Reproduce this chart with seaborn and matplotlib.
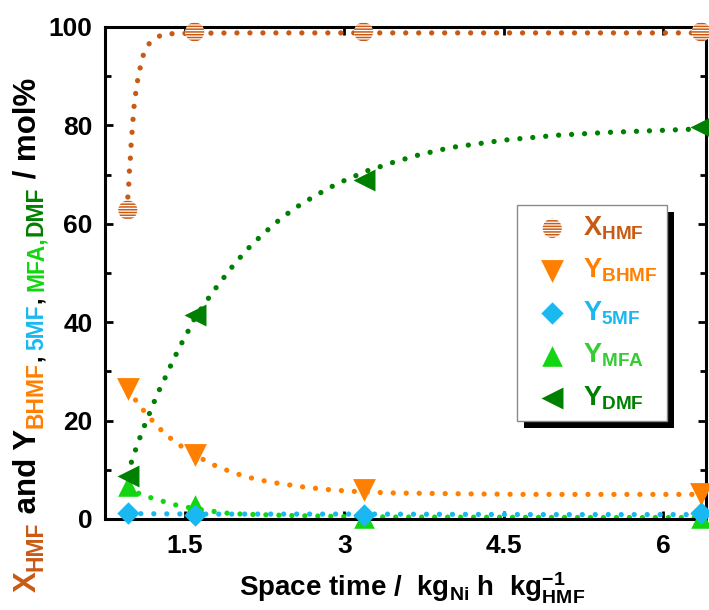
import numpy as np
import pandas as pd
import matplotlib
matplotlib.use("Agg")
import matplotlib.pyplot as plt
import seaborn as sns
from matplotlib.patches import Rectangle
from matplotlib.transforms import IdentityTransform

# ---------------- data ----------------
space_time = [0.96, 1.59, 3.18, 6.36]
x_hmf = [62.8, 99.0, 99.0, 99.0]
y_bhmf = [26.5, 13.0, 5.9, 5.1]
y_5mf = [1.3, 0.8, 0.8, 1.2]
y_mfa = [6.7, 2.8, 0.3, 0.2]
y_dmf = [8.7, 41.5, 69.0, 79.7]

# fitted (dotted) curves
fit_hmf_x = [0.953, 0.96, 0.969, 0.975, 0.984, 0.991, 1.0, 1.009, 1.019, 1.035, 1.054,
             1.078, 1.107, 1.163, 1.274, 1.406, 2.0, 3.0, 4.0, 5.0, 6.36]
fit_hmf_y = [62.8, 65.4, 68.1, 70.8, 73.4, 76.1, 78.7, 81.3, 84.0, 86.7, 89.4,
             91.9, 94.4, 96.7, 98.4, 98.7, 98.8, 98.8, 98.8, 98.8, 98.8]

fit_dmf_x = [0.96, 0.997, 1.035, 1.078, 1.123, 1.17, 1.217, 1.264, 1.318, 1.368, 1.422,
             1.478, 1.538, 1.594, 1.667, 1.736, 1.811, 1.887, 1.962, 2.04, 2.12, 2.208,
             2.295, 2.387, 2.484, 2.585, 2.686, 2.79, 2.893, 3.0, 3.12, 3.23, 3.35, 3.46,
             3.7, 4.0, 4.5, 5.0, 5.5, 6.0, 6.36]
fit_dmf_y = [9.0, 11.8, 14.2, 16.8, 19.3, 21.8, 24.3, 26.6, 29.0, 31.4, 33.8,
             36.2, 38.6, 41.0, 43.2, 45.4, 47.6, 49.7, 51.8, 53.7, 55.6, 57.4,
             59.1, 60.8, 62.4, 63.9, 65.2, 66.5, 67.7, 68.8, 69.9, 70.9, 71.7, 72.5,
             74.0, 75.5, 77.0, 78.0, 78.6, 79.0, 79.3]

fit_bhmf_x = [0.96, 1.022, 1.09, 1.163, 1.239, 1.333, 1.434, 1.594, 1.745, 1.858, 1.97,
              2.09, 2.21, 2.33, 2.46, 2.58, 2.70, 2.83, 2.95, 3.18, 3.32, 3.44, 3.8,
              4.2, 4.7, 5.2, 5.8, 6.36]
fit_bhmf_y = [26.3, 24.5, 22.5, 20.7, 18.8, 16.9, 15.2, 13.0, 11.2, 10.2, 9.3,
              8.5, 7.9, 7.4, 7.0, 6.6, 6.3, 6.0, 5.8, 5.5, 5.4, 5.3, 5.2,
              5.1, 5.0, 5.0, 5.0, 5.0]

fit_mfa_x = [0.96, 1.07, 1.18, 1.29, 1.42, 1.59, 1.78, 1.89, 2.03, 2.5, 3.0, 3.5, 4.5, 5.5, 6.36]
fit_mfa_y = [6.7, 5.1, 4.3, 3.6, 2.8, 2.1, 1.5, 1.2, 1.0, 0.7, 0.5, 0.4, 0.35, 0.3, 0.3]

fit_5mf_x = [0.96, 1.59, 3.18, 4.8, 6.36]
fit_5mf_y = [1.1, 1.0, 1.0, 0.9, 0.9]

x_ticks = [1.5, 3, 4.5, 6]
x_tick_labels = ["1.5", "3", "4.5", "6"]
y_ticks = [0, 20, 40, 60, 80, 100]

c_hmf = "#C85A14"
c_bhmf = "#FF8000"
c_5mf = "#1AB8F0"
c_mfa = "#11D611"
c_mfa_txt = "#33CC33"
c_dmf = "#008000"

# ---------------- style ----------------
sns.set_theme(style="ticks")
plt.rcParams["font.family"] = ["Liberation Sans", "DejaVu Sans"]
plt.rcParams["font.weight"] = "bold"
plt.rcParams["mathtext.fontset"] = "custom"
plt.rcParams["mathtext.rm"] = "Liberation Sans:bold"
plt.rcParams["mathtext.bf"] = "Liberation Sans:bold"
plt.rcParams["mathtext.it"] = "Liberation Sans:bold"
plt.rcParams["mathtext.sf"] = "Liberation Sans:bold"
plt.rcParams["hatch.linewidth"] = 1.1
plt.rcParams["axes.unicode_minus"] = False

W, H = 709, 610
fig = plt.figure(figsize=(W / 100, H / 100), dpi=100)
ax = fig.add_axes([105 / W, 1 - 519 / H, (706 - 105) / W, (519 - 27) / H])
ax.set_facecolor("white")

dot = dict(lw=3.8, linestyle=(0, (0.01, 2.45)), dash_capstyle="round",
           estimator=None, sort=False, legend=False, ax=ax, zorder=2)
sns.lineplot(x=fit_hmf_x, y=fit_hmf_y, color=c_hmf, **dot)
sns.lineplot(x=fit_bhmf_x, y=fit_bhmf_y, color=c_bhmf, **dot)
sns.lineplot(x=fit_mfa_x, y=fit_mfa_y, color=c_mfa, **dot)
sns.lineplot(x=fit_5mf_x, y=fit_5mf_y, color=c_5mf, **dot)
sns.lineplot(x=fit_dmf_x, y=fit_dmf_y, color=c_dmf, **dot)

sc = dict(ax=ax, clip_on=False, zorder=6, legend=False)
sns.scatterplot(x=space_time, y=x_hmf, marker="o", s=190, color="white",
                edgecolor=c_hmf, linewidth=0, hatch="------", **sc)
sns.scatterplot(x=space_time, y=y_bhmf, marker="v", s=270, color=c_bhmf,
                edgecolor=c_bhmf, linewidth=0, **sc)
sns.scatterplot(x=space_time, y=y_mfa, marker="^", s=220, color=c_mfa,
                edgecolor=c_mfa, linewidth=0, **sc)
sns.scatterplot(x=space_time, y=y_dmf, marker="<", s=250, color=c_dmf,
                edgecolor=c_dmf, linewidth=0, **sc)
sns.scatterplot(x=space_time, y=y_5mf, marker="D", s=130, color=c_5mf,
                edgecolor=c_5mf, linewidth=0, **sc)

ax.set_xlim(0.745, 6.405)
ax.set_ylim(0, 100)
ax.set_xticks(x_ticks)
ax.set_xticklabels(x_tick_labels)
ax.set_yticks(y_ticks)
ax.set_yticks([10, 30, 50, 70, 90], minor=True)
ax.set_xlabel("")
ax.set_ylabel("")
for s in ax.spines.values():
    s.set_visible(True)
    s.set_linewidth(2.2)
    s.set_color("black")
ax.tick_params(which="both", direction="in", top=True, right=True, width=2,
               colors="black", labelsize=19)
ax.tick_params(which="major", length=6)
ax.tick_params(which="minor", length=4)
ax.tick_params(axis="y", pad=9)
ax.tick_params(axis="x", pad=11)
for lab in ax.get_xticklabels() + ax.get_yticklabels():
    lab.set_fontweight("bold")

# ---------------- legend ----------------
handles = [
    ax.collections[0], ax.collections[1], ax.collections[4],
    ax.collections[2], ax.collections[3],
]
labels = [r"X$_{\mathbf{HMF}}$", r"Y$_{\mathbf{BHMF}}$", r"Y$_{\mathbf{5MF}}$",
          r"Y$_{\mathbf{MFA}}$", r"Y$_{\mathbf{DMF}}$"]
label_colors = [c_hmf, c_bhmf, c_5mf, c_mfa_txt, c_dmf]
leg = ax.legend(handles, labels, loc="upper left",
                bbox_to_anchor=(517 / W, 1 - 205 / H), bbox_transform=fig.transFigure,
                frameon=True, fancybox=False, fontsize=19.5, borderaxespad=0,
                handlelength=1.9, handletextpad=0.2, labelspacing=0.55,
                borderpad=0.35, scatterpoints=1, framealpha=1)
leg.set_zorder(10)
leg.get_frame().set_edgecolor("#8a8a8a")
leg.get_frame().set_linewidth(1.0)
for t, c in zip(leg.get_texts(), label_colors):
    t.set_color(c)
    t.set_fontweight("bold")

# ---------------- axis labels ----------------
fig.text(412 / W, 14 / H,
         r"Space time /  kg$_{\mathbf{Ni}}$ h  kg$^{\mathbf{-1}}_{\mathbf{HMF}}$",
         ha="center", va="baseline", fontsize=20, fontweight="bold", color="black")

fig.canvas.draw()
renderer = fig.canvas.get_renderer()

MAIN, SUB = 22.5, 16.5
pieces = [
    ("X", c_hmf, MAIN, 0),
    ("HMF", c_hmf, SUB, 7),
    (" and Y", "black", MAIN, 0),
    ("BHMF", c_bhmf, SUB, 7),
    (", ", "black", SUB, 7),
    ("5MF", c_5mf, SUB, 7),
    (", ", "black", SUB, 7),
    ("MFA,", c_mfa, SUB, 7),
    ("DMF", c_dmf, SUB, 7),
    (" / mol%", "black", MAIN, 0),
]
x0, y0 = 36, 18
y = y0
for s, c, fs, dx in pieces:
    t = fig.text((x0 + dx) / W, y / H, s, rotation=90, rotation_mode="anchor",
                 ha="left", va="baseline", fontsize=fs, fontweight="bold", color=c)
    bb = t.get_window_extent(renderer)
    y += bb.height

# legend shadow
fig.canvas.draw()
bb = leg.get_frame().get_window_extent(renderer)
shadow = Rectangle((bb.x0 + 7, bb.y0 - 7), bb.width, bb.height,
                   transform=IdentityTransform(), facecolor="black",
                   edgecolor="none", zorder=9, clip_on=False)
ax.add_artist(shadow)

fig.savefig("out.png", dpi=100)
